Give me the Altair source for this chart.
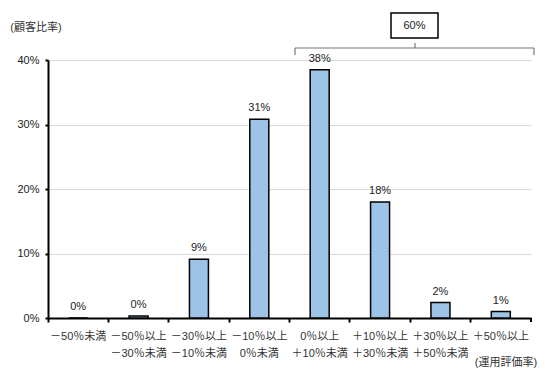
import altair as alt
import pandas as pd

categories = [
    "－50％未満",
    "－50％以上\n－30％未満",
    "－30％以上\n－10％未満",
    "－10％以上\n0％未満",
    "0％以上\n＋10％未満",
    "＋10％以上\n＋30％未満",
    "＋30％以上\n＋50％未満",
    "＋50％以上",
]
values = [0.0, 0.3, 9.1, 30.8, 38.5, 18.0, 2.4, 1.0]
value_labels = ["0%", "0%", "9%", "31%", "38%", "18%", "2%", "1%"]
bracket_label = "60%"
y_title = "(顧客比率)"
x_title = "(運用評価率)"

df = pd.DataFrame({"cat": categories, "val": values, "lab": value_labels})

W, H = 483, 258
FONT = "Liberation Sans, Noto Sans CJK JP, sans-serif"

x_enc = alt.X("cat:N", sort=categories,
              scale=alt.Scale(paddingInner=0, paddingOuter=0),
              axis=alt.Axis(title=None, labels=False, bandPosition=0,
                            domainColor="black", domainWidth=2,
                            tickColor="black", tickSize=4, tickWidth=2))
y_enc = alt.Y("val:Q", scale=alt.Scale(domain=[0, 40], nice=False),
              axis=alt.Axis(title=None, values=[0, 10, 20, 30, 40],
                            labelExpr="datum.value + '%'",
                            labelFontSize=11, labelColor="#222", labelFont=FONT,
                            labelPadding=6,
                            domainColor="black", domainWidth=2,
                            tickColor="black", tickSize=3, tickWidth=2,
                            gridColor="#d9d9d9", gridWidth=1))

base = alt.Chart(df)

bars = base.mark_bar(size=19, color="#9DC3E6", stroke="black", strokeWidth=1.5).encode(
    x=x_enc, y=y_enc)

vlabels = base.mark_text(dy=-6, fontSize=11, font=FONT, color="#222", baseline="bottom").encode(
    x=alt.X("cat:N", sort=categories), y="val:Q", text="lab:N")

xlabels = base.mark_text(fontSize=11, font=FONT, color="#333", baseline="top",
                         lineBreak="\n", lineHeight=17).encode(
    x=alt.X("cat:N", sort=categories), y=alt.value(H + 13), text="cat:N")

one = alt.Data(values=[{"t": 1}])

end_tick = alt.Chart(one).mark_rule(color="black", strokeWidth=2).encode(
    x=alt.value(W), y=alt.value(H), y2=alt.value(H + 4))

bcol = "#777"
br_h = alt.Chart(one).mark_rule(color=bcol, strokeWidth=1.2).encode(
    x=alt.value(247), x2=alt.value(486), y=alt.value(-12))
br_l = alt.Chart(one).mark_rule(color=bcol, strokeWidth=1.2).encode(
    x=alt.value(247), y=alt.value(-12), y2=alt.value(-5))
br_r = alt.Chart(one).mark_rule(color=bcol, strokeWidth=1.2).encode(
    x=alt.value(486), y=alt.value(-12), y2=alt.value(-5))
br_c = alt.Chart(one).mark_rule(color=bcol, strokeWidth=1.2).encode(
    x=alt.value(367), y=alt.value(-12), y2=alt.value(-17))

box = alt.Chart(one).mark_rect(fill="white", stroke="black", strokeWidth=1.5).encode(
    x=alt.value(343), x2=alt.value(390), y=alt.value(-47), y2=alt.value(-22))
box_t = alt.Chart(one).mark_text(fontSize=11, font=FONT, color="#222").encode(
    x=alt.value(366.5), y=alt.value(-34.5), text=alt.value(bracket_label))

ytitle = alt.Chart(one).mark_text(fontSize=11, font=FONT, color="#333").encode(
    x=alt.value(-12), y=alt.value(-32), text=alt.value(y_title))
xtitle = alt.Chart(one).mark_text(fontSize=11, font=FONT, color="#333").encode(
    x=alt.value(458), y=alt.value(45 + H), text=alt.value(x_title))

chart = alt.layer(bars, vlabels, xlabels, end_tick, br_h, br_l, br_r, br_c,
                  box, box_t, ytitle, xtitle).properties(
    width=W, height=H,
    autosize=alt.AutoSizeParams(type="none"),
    padding={"left": 48, "top": 60, "right": 19, "bottom": 67},
    background="white",
).configure_view(stroke=None)

chart.save("out.html", embed_options={"renderer": "svg", "actions": False})
